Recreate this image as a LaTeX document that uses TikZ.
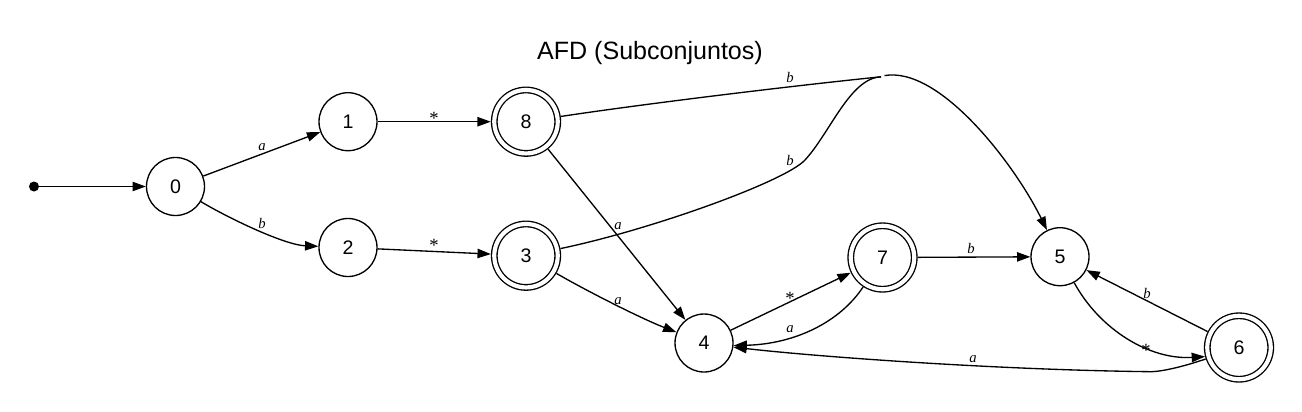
\documentclass[tikz,border=0pt]{standalone}
\usepackage{fontspec}
\setmainfont{Liberation Serif}
\setsansfont{Liberation Sans}
\usetikzlibrary{arrows.meta}
\begin{document}
\begin{tikzpicture}[x=0.75pt,y=-0.75pt,
  st/.style={circle,draw,line width=1pt,minimum size=43.5pt,inner sep=0pt,
    font=\sffamily\fontsize{14.7}{17}\selectfont},
  acc/.style={st,double,double distance=3.125pt,minimum size=47.6pt,outer sep=2.6pt},
  edge/.style={line width=1pt,-{Triangle[length=10pt,width=7pt]}},
  plainedge/.style={line width=1pt},
  lbl/.style={font=\itshape\fontsize{11}{13}\selectfont,inner sep=0pt},
  starlbl/.style={font=\fontsize{14}{16}\selectfont,inner sep=0pt},
]
\useasboundingbox (0,0) rectangle (1302,411);

\node[font=\sffamily\fontsize{18.8}{22}\selectfont,anchor=base,inner sep=0pt] (title) at (650,59.3) {AFD (Subconjuntos)};

\node[circle,fill,inner sep=0pt,minimum size=7.5pt] (S) at (34,186.5) {};
\node[st] (n0) at (175.5,186.5) {0};
\node[st] (n1) at (348,121.7) {1};
\node[st] (n2) at (348,247.5) {2};
\node[acc] (n8) at (526,121.7) {8};
\node[acc] (n3) at (526,255.7) {3};
\node[st] (n4) at (704,343) {4};
\node[acc] (n7) at (882.5,257.5) {7};
\node[st] (n5) at (1060,256.7) {5};
\node[acc] (n6) at (1239,347.5) {6};

\coordinate (J1) at (881,76.8);
\coordinate (J2) at (884.5,75.6);

\draw[edge] (S) -- (n0);
\draw[edge] (n0) -- (n1) node[lbl] (l01) at (262,147) {a};
\draw[edge] (n0) .. controls (230,219) and (285,245) .. (n2) node[lbl] (l02) at (262,223) {b};
\draw[edge] (n1) -- (n8) node[starlbl] (l18) at (434,118.5) {*};
\draw[edge] (n2) -- (n3) node[starlbl] (l23) at (434,245) {*};
\draw[edge] (n8) -- (n4) node[lbl] (l84) at (618,226) {a};
\draw[edge] (n3) .. controls (585,290) and (640,318) .. (n4) node[lbl] (l34) at (618,301.5) {a};

\draw[plainedge] (n8) .. controls (650,103) and (800,85) .. (J1) node[lbl] (l85) at (790,77) {b};
\draw[plainedge] (n3) .. controls (650,230) and (785,181.6) .. (805,160)
  .. controls (830,133) and (850,78) .. (J1) node[lbl] (l35) at (790,160) {b};
\draw[edge] (J2) .. controls (940,66) and (1015,165) .. (n5);

\draw[edge] (n4) -- (n7) node[starlbl] (l47) at (790,298) {*};
\draw[edge] (n7) .. controls (840,322) and (795,344) .. (n4.-5) node[lbl] (l74) at (790,329) {a};
\draw[edge] (n7) -- (n5) node[lbl] (l75) at (971,248) {b};
\draw[edge] (n5) .. controls (1100,330) and (1150,360) .. (n6.195) node[starlbl] (l56) at (1146,350) {*};
\draw[edge] (n6) -- (n5) node[lbl] (l65) at (1147,293) {b};
\draw[edge] (n6.199) .. controls (1185,366) and (1165,371) .. (1152,371.7)
  .. controls (1000,370) and (820,357) .. (n4.-8) node[lbl] (l64) at (973,359) {a};
\end{tikzpicture}
\end{document}
